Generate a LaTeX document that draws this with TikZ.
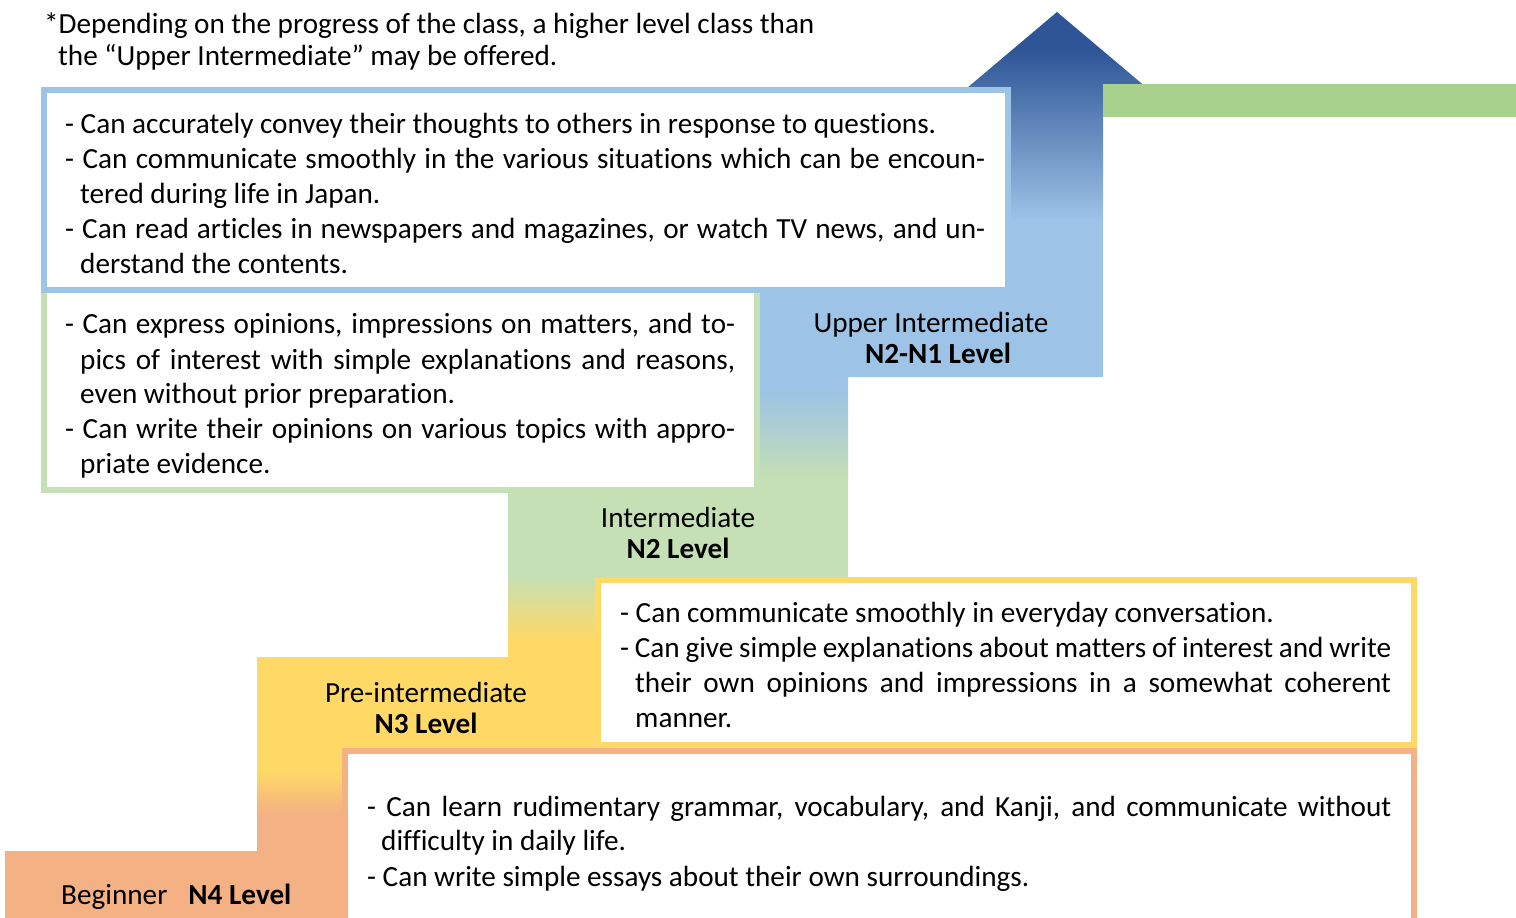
\documentclass[tikz,border=0pt]{standalone}
\usepackage{fontspec}
\setmainfont{Carlito}[Ligatures=NoCommon]
\definecolor{cOr}{HTML}{F4B183}
\definecolor{cYe}{HTML}{FFD966}
\definecolor{cGr}{HTML}{C5E0B4}
\definecolor{cBl}{HTML}{9DC3E6}
\definecolor{cDk}{HTML}{2F5597}
\definecolor{cBar}{HTML}{A9D18E}
\pgfdeclareverticalshading{stairs}{100bp}{color(0bp)=(cOr); color(30.79bp)=(cOr); color(33.17bp)=(cYe); color(40.34bp)=(cYe); color(43.93bp)=(cGr); color(49.17bp)=(cGr); color(54.14bp)=(cBl); color(63.52bp)=(cBl); color(72.9bp)=(cDk); color(100bp)=(cDk)}
\newcommand\jline[2]{\makebox[#1pt][s]{#2}}
\newcommand\bodyfont{\fontsize{29.2}{35}\selectfont}
\begin{document}
\begin{tikzpicture}[x=1pt,y=1pt,
  txt/.style={anchor=base west, inner sep=0pt, font=\bodyfont},
  lbl/.style={anchor=base, inner sep=0pt, font=\bodyfont},
  lblb/.style={anchor=base, inner sep=0pt, font=\bodyfont\bfseries},
  box/.style={line width=6pt, fill=white},
  boxb/.style={box, draw=cBl},
  boxg/.style={box, draw=cGr},
  boxy/.style={box, draw=cYe},
  boxo/.style={box, draw=cOr}]
\useasboundingbox (0,0) rectangle (1516,-918);
% staircase arrow
\shade[shading=stairs] (5,-918) -- (5,-851) -- (257,-851) -- (257,-657) -- (508,-657) -- (508,-493) -- (760,-493) -- (760,-290) -- (1011,-290) -- (1011,-88) -- (967,-88) -- (1057,-12) -- (1147,-88) -- (1103,-88) -- (1103,-377) -- (848,-377) -- (848,-578) -- (700,-578) -- (700,-760) -- (400,-760) -- (400,-918) -- cycle;
\fill[cBar] (1103,-84) rectangle (1516,-117);
% boxes
\draw[boxg] (44,-290) rectangle (757,-490);
\draw[boxb] (44,-90) rectangle (1008,-290);
\draw[boxy] (598,-580) rectangle (1414,-745);
\draw[boxo] (345,-751) rectangle (1414,-930);
% note
\node[txt] (n1) at (44,-33) {*Depending on the progress of the class, a higher level class than};
\node[txt] (n2) at (58,-65) {the “Upper Intermediate” may be offered.};
% upper intermediate box
\node[txt] (a1) at (65,-133) {- Can accurately convey their thoughts to others in response to questions.};
\node[txt] (a2) at (65,-168) {\jline{920}{- Can communicate smoothly in the various situations which can be encoun-}};
\node[txt] (a3) at (80,-203) {tered during life in Japan.};
\node[txt] (a4) at (65,-238) {\jline{920}{- Can read articles in newspapers and magazines, or watch TV news, and un-}};
\node[txt] (a5) at (80,-273) {derstand the contents.};
% intermediate box
\node[txt] (b1) at (65,-333) {\jline{670}{- Can express opinions, impressions on matters, and to-}};
\node[txt] (b2) at (80,-369) {\jline{655}{pics of interest with simple explanations and reasons,}};
\node[txt] (b3) at (80,-403) {even without prior preparation.};
\node[txt] (b4) at (65,-438) {\jline{670}{- Can write their opinions on various topics with appro-}};
\node[txt] (b5) at (80,-473) {priate evidence.};
% pre-intermediate box
\node[txt] (c1) at (620,-622) {- Can communicate smoothly in everyday conversation.};
\node[txt] (c2) at (620,-657) {\jline{771}{- Can give simple explanations about matters of interest and write}};
\node[txt] (c3) at (635,-692) {\jline{756}{their own opinions and impressions in a somewhat coherent}};
\node[txt] (c4) at (635,-727) {manner.};
% beginner box
\node[txt] (d1) at (367,-816) {\jline{1024}{- Can learn rudimentary grammar, vocabulary, and Kanji, and communicate without}};
\node[txt] (d2) at (381,-850) {difficulty in daily life.};
\node[txt] (d3) at (367,-886) {- Can write simple essays about their own surroundings.};
% level labels
\node[lbl] (u1) at (931,-332) {Upper Intermediate};
\node[lblb] (u2) at (938,-363) {N2-N1 Level};
\node[lbl] (i1) at (678,-527) {Intermediate};
\node[lblb] (i2) at (678,-558) {N2 Level};
\node[lbl] (p1) at (426,-702) {Pre-intermediate};
\node[lblb] (p2) at (426,-733) {N3 Level};
\node[txt] (g1) at (61,-904) {Beginner\hspace{21pt}\textbf{N4 Level}};
\end{tikzpicture}
\end{document}
